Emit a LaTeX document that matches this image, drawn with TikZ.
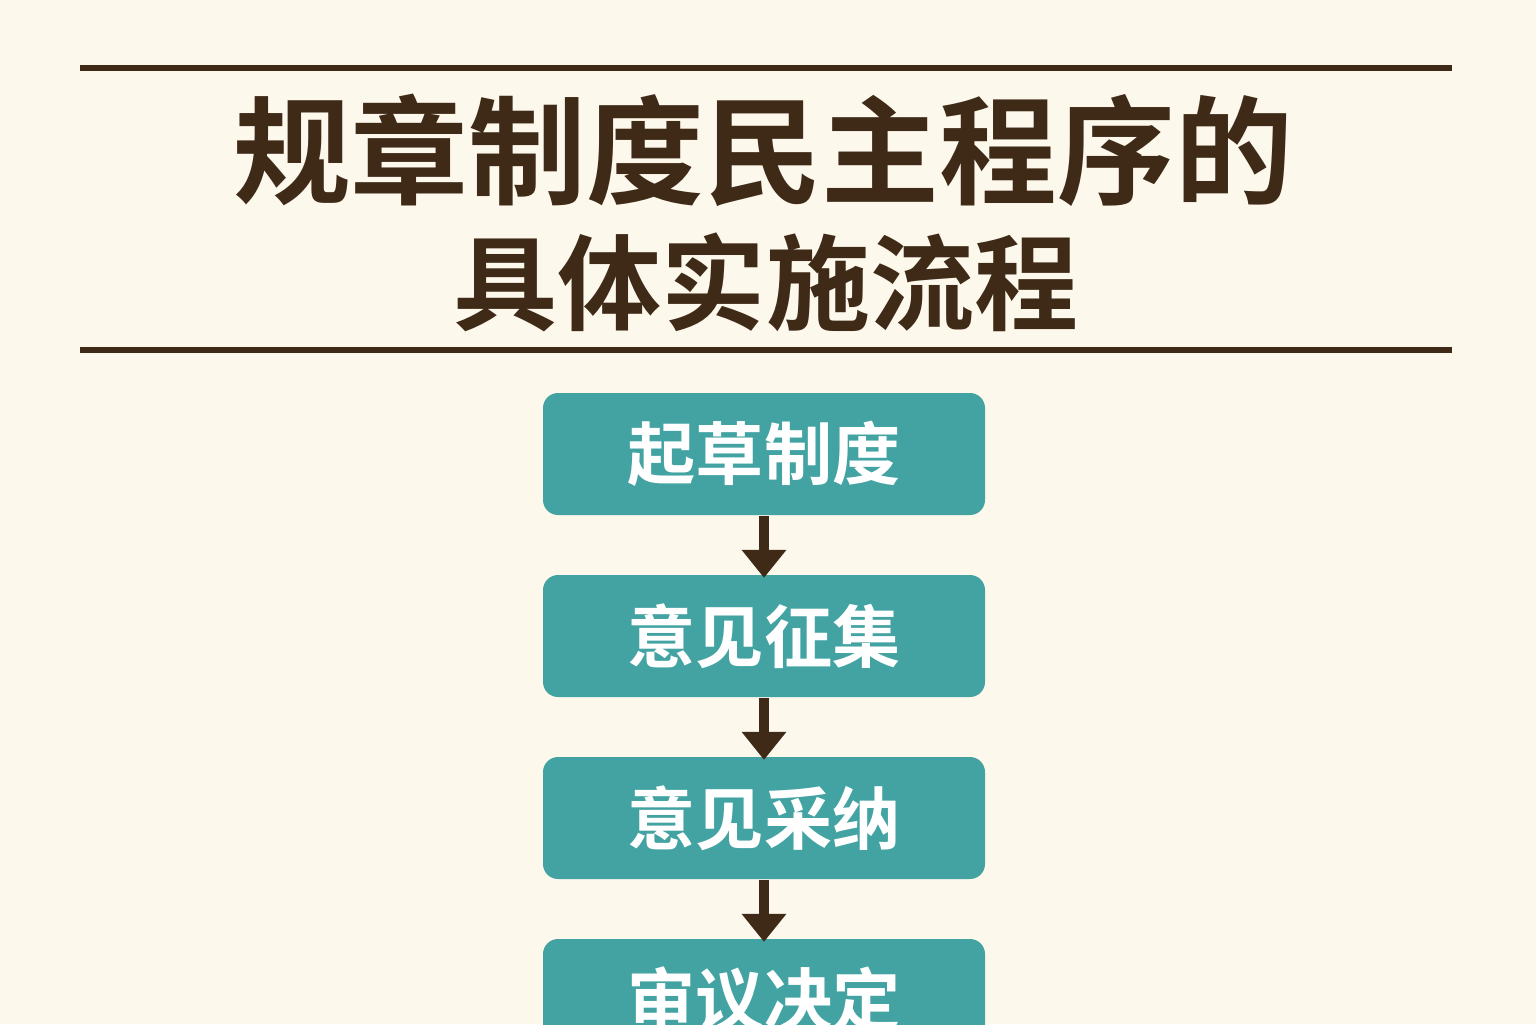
\documentclass[tikz,border=0pt]{standalone}
\usepackage{fontspec}
\newfontfamily\cjk{Noto Sans CJK SC}[BoldFont={Noto Sans CJK SC Bold}]
\usetikzlibrary{arrows.meta}
\definecolor{bgcream}{HTML}{FDF8EC}
\definecolor{darkbrown}{HTML}{3F2A17}
\definecolor{tealbox}{HTML}{43A3A3}

\begin{document}
\begin{tikzpicture}[node distance=1.82cm,
  every node/.style={inner sep=0pt},
  stepbox/.style={rectangle,rounded corners=0.15cm,fill=tealbox,minimum width=4.42cm,minimum height=1.22cm,
    text=white,font=\cjk\bfseries\fontsize{19.4}{22}\selectfont},
  rule/.style={darkbrown,line width=1.7pt},
  flow/.style={-{Triangle[width=0.43cm,length=0.28cm]},darkbrown,line width=2.8pt,shorten >=-1pt}]
  \fill[bgcream] (0,0) rectangle (15.36,-10.24);
  \useasboundingbox (0,0) rectangle (15.36,-10.24);
  \draw[rule] (0.80,-0.68) -- (14.52,-0.68);
  \draw[rule] (0.80,-3.50) -- (14.52,-3.50);
  \node[text=darkbrown,font=\cjk\bfseries\fontsize{33.5}{36}\selectfont] (title1) at (7.63,-1.50) {规章制度民主程序的};
  \node[text=darkbrown,font=\cjk\bfseries\fontsize{29.6}{32}\selectfont] (title2) at (7.66,-2.82) {具体实施流程};
  \node[stepbox] (draft) at (7.64,-4.54) {起草制度};
  \node[stepbox] (collect) [below of=draft] {意见征集};
  \node[stepbox] (adopt) [below of=collect] {意见采纳};
  \node[stepbox] (decide) [below of=adopt] {审议决定};
  \draw[flow] (draft) -- (collect);
  \draw[flow] (collect) -- (adopt);
  \draw[flow] (adopt) -- (decide);
\end{tikzpicture}
\end{document}
